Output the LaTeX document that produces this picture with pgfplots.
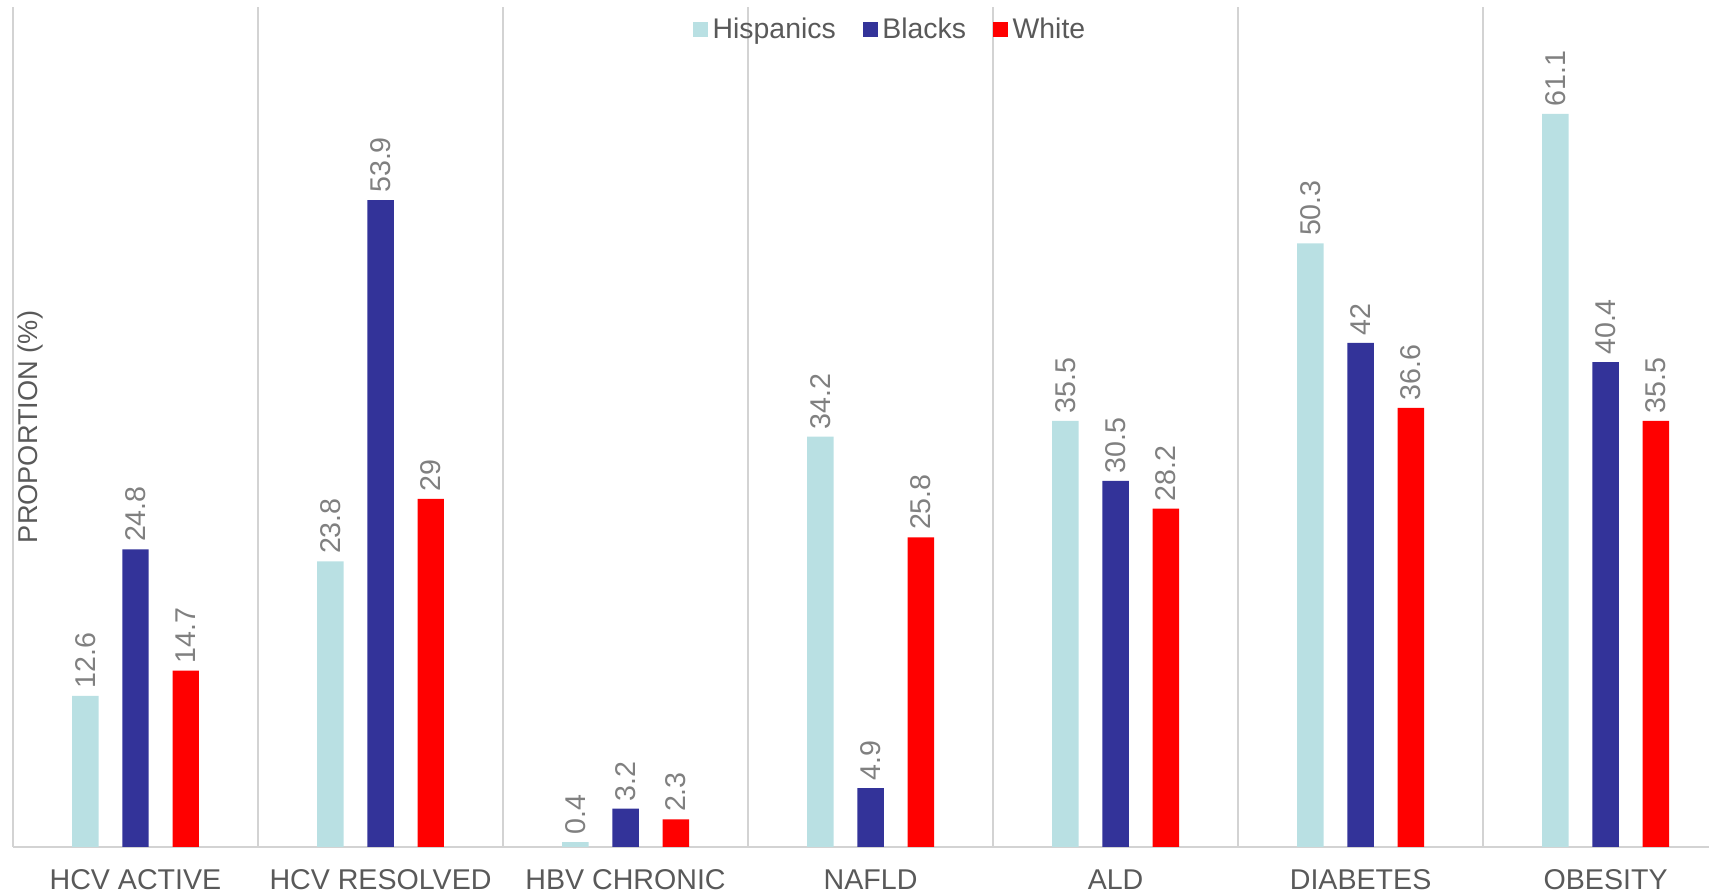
\documentclass[border=0pt]{standalone}
\usepackage{fontspec}
\setmainfont{Liberation Sans}
\usepackage{pgfplots}
\pgfplotsset{compat=1.18}
\definecolor{hisp}{HTML}{B9E0E3}
\definecolor{blk}{HTML}{333399}
\definecolor{wht}{HTML}{FF0000}
\definecolor{txt}{HTML}{595959}
\definecolor{val}{HTML}{808080}
\definecolor{gridc}{HTML}{D3D3D3}
\begin{document}
\begin{tikzpicture}
\begin{axis}[
  at={(0,0)}, anchor=south west,
  scale only axis, width=848pt, height=420pt,
  xmin=-0.5, xmax=6.422, ymin=0, ymax=70,
  axis x line*=bottom, axis y line=none,
  x axis line style={draw=gridc, line width=0.8pt},
  xtick={0,...,6},
  xticklabels={HCV ACTIVE, HCV RESOLVED, HBV CHRONIC, NAFLD, ALD, DIABETES, OBESITY},
  major tick length=0pt, minor tick length=0pt,
  minor xtick={-0.5,0.5,...,5.5},
  xminorgrids, minor grid style={draw=gridc, line width=0.8pt},
  ytick=\empty,
  xticklabel style={font=\fontsize{14.3}{16}\selectfont, text=txt, inner sep=0pt, anchor=north, yshift=-11pt},
  /pgf/number format/assume math mode=true,
  ybar, bar width=0.108,
  nodes near coords,
  every node near coord/.append style={rotate=90, anchor=west, font=\fontsize{14.3}{16}\selectfont, text=val, inner sep=3.5pt},
  legend columns=3,
  legend style={draw=none, fill=none, at={(rel axis cs:0.518,0.9726)}, anchor=center,
    font=\fontsize{14.2}{16}\selectfont, text=txt,
    /tikz/every even column/.append style={column sep=11.5pt},
    nodes={inner sep=2.2pt}},
  legend image code/.code={\fill[#1] (0pt,-3.6pt) rectangle (7.4pt,3.8pt);},
]
\addplot[fill=hisp, draw=none, bar shift=-0.205] coordinates {(0,12.6) (1,23.8) (2,0.4) (3,34.2) (4,35.5) (5,50.3) (6,61.1)};
\addlegendentry{Hispanics}
\addplot[fill=blk, draw=none, bar shift=0] coordinates {(0,24.8) (1,53.9) (2,3.2) (3,4.9) (4,30.5) (5,42) (6,40.4)};
\addlegendentry{Blacks}
\addplot[fill=wht, draw=none, bar shift=0.205] coordinates {(0,14.7) (1,29) (2,2.3) (3,25.8) (4,28.2) (5,36.6) (6,35.5)};
\addlegendentry{White}
\node[rotate=90, font=\fontsize{13.6}{15}\selectfont, text=txt, inner sep=0pt] at (rel axis cs:0.0105,0.5) {PROPORTION (\%)};
\end{axis}
\pgfresetboundingbox
\useasboundingbox (-6.5pt,-23pt) rectangle (848pt,423.5pt);
\end{tikzpicture}
\end{document}
